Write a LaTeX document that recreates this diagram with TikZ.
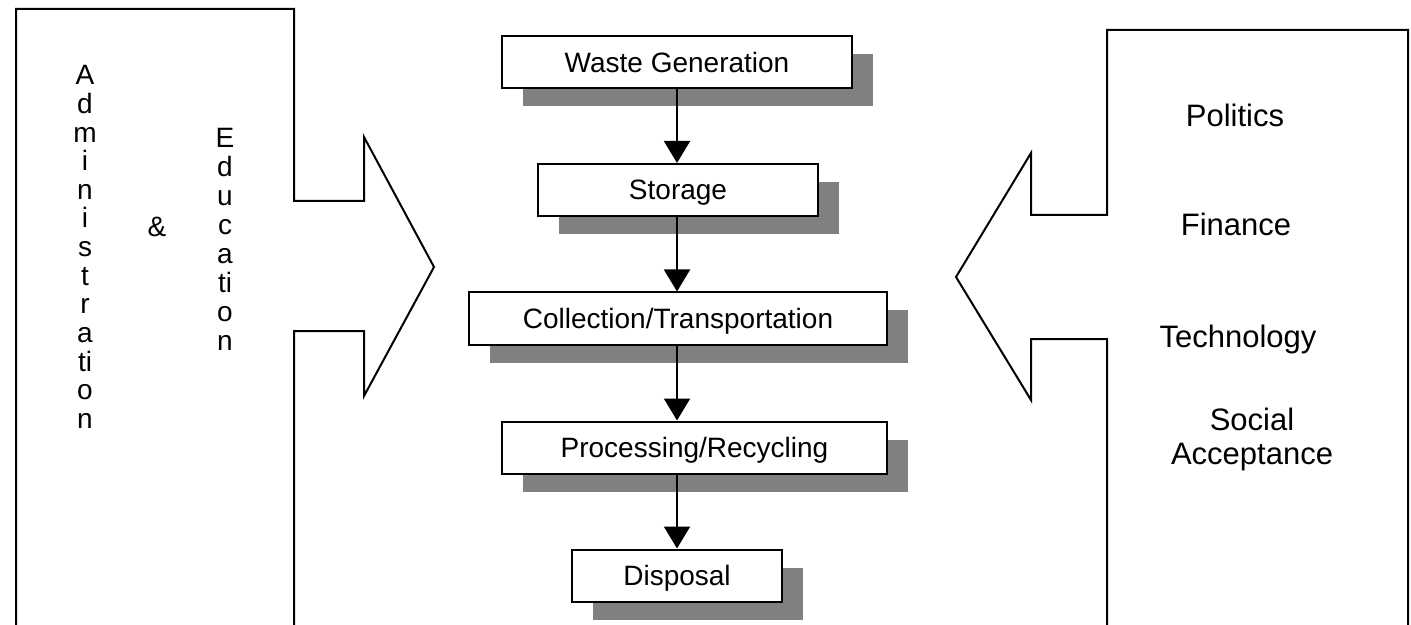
\documentclass[tikz,border=0pt]{standalone}
\usepackage{fontspec}
\setmainfont{Liberation Sans}
\usetikzlibrary{arrows.meta,shadows}

\begin{document}
\begin{tikzpicture}[x=0.5pt, y=-0.5pt,
    stage/.style={draw, fill=white, line width=1pt, inner sep=0pt,
        minimum height=26pt, text depth=0pt, font=\fontsize{14}{16}\selectfont,
        drop shadow={shadow xshift=10.5pt, shadow yshift=-9pt, fill=gray, opacity=1}},
    flow/.style={line width=1pt, -{Triangle[width=13pt, length=11pt]}},
    letter/.style={anchor=base, inner sep=0pt, font=\fontsize{14}{16}\selectfont},
    factor/.style={anchor=base, inner sep=0pt, font=\fontsize{15.5}{17}\selectfont}]

    \clip (0,0) rectangle (1411,625);

    % the two big block arrows
    \draw[line width=1pt]
    (16,640) -- (16,9) -- (294,9) -- (294,201) -- (364,201) -- (364,137)
    -- (434,267) -- (364,396) -- (364,331) -- (294,331) -- (294,640);
    \draw[line width=1pt]
    (1408,640) -- (1408,30) -- (1107,30) -- (1107,215) -- (1031,215) -- (1031,153)
    -- (956,277) -- (1031,400) -- (1031,339) -- (1107,339) -- (1107,640);

    % left side, written downwards
    \foreach \ch [count=\i from 0] in {A,d,m,i,n,i,s,t,r,a,ti,o,n}
    \node[letter] (adm\i) at (85, 85+28.6*\i) {\ch};
    \node[letter] (amp) at (157, 237) {\&};
    \foreach \ch [count=\i from 0] in {E,d,u,c,a,ti,o,n}
    \node[letter] (edu\i) at (225, 148+28.9*\i) {\ch};

    % right side
    \node[factor] (pol) at (1235, 127) {Politics};
    \node[factor] (fin) at (1236, 236) {Finance};
    \node[factor] (tec) at (1238, 347) {Technology};
    \node[factor] (soc) at (1252, 430) {Social};
    \node[factor] (acc) at (1252, 464) {Acceptance};

    % the chain in the middle
    \node[stage, minimum width=175pt] (wg) at (677, 62) {Waste Generation};
    \node[stage, minimum width=140pt] (st) at (678, 190) {Storage};
    \node[stage, minimum width=209pt] (col) at (678, 318.5) {Collection/Transportation};
    \node[stage, minimum width=192.5pt] (pr) at (694.5, 447.5) {Processing/Recycling};
    \node[stage, minimum width=105pt] (dis) at (677, 575.5) {Disposal};

    \draw[flow] (wg.south) -- (wg.south |- st.north);
    \draw[flow] (wg.south |- st.south) -- (wg.south |- col.north);
    \draw[flow] (wg.south |- col.south) -- (wg.south |- pr.north);
    \draw[flow] (wg.south |- pr.south) -- (wg.south |- dis.north);

\end{tikzpicture}
\end{document}
